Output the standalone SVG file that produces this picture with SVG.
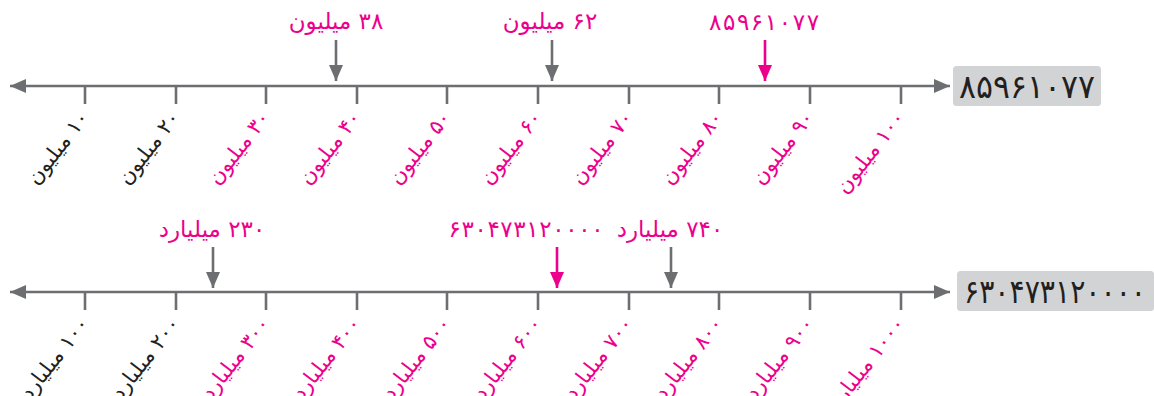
<svg xmlns="http://www.w3.org/2000/svg" width="1154" height="396" viewBox="0 0 1154 396">
<style>
.ax{stroke:#6d6e71;stroke-width:2.6;fill:none}
.tk{stroke:#6d6e71;stroke-width:2.6}
.pk{fill:#ec008c}
.bk{fill:#231f20}
.lbl{font-family:"DejaVu Sans",sans-serif;font-size:21px}
.top{font-family:"DejaVu Sans",sans-serif;font-size:23px}
.box{font-family:"DejaVu Sans",sans-serif;font-size:33px;fill:#231f20}
</style>
<defs>
<marker id="ah" markerUnits="userSpaceOnUse" markerWidth="16" markerHeight="14" refX="16" refY="7" orient="auto-start-reverse"><path d="M0,0L16,7L0,14z" fill="#6d6e71"/></marker>
<marker id="ahp" markerUnits="userSpaceOnUse" markerWidth="16" markerHeight="14" refX="16" refY="7" orient="auto"><path d="M0,0L16,7L0,14z" fill="#ec008c"/></marker>
</defs>
<g id="connectors">
<line class="ax" x1="10" y1="86" x2="950" y2="86" marker-start="url(#ah)" marker-end="url(#ah)"/>
<line class="ax" x1="10" y1="292" x2="950" y2="292" marker-start="url(#ah)" marker-end="url(#ah)"/>
<line class="ax" x1="336" y1="40" x2="336" y2="81" marker-end="url(#ah)"/>
<line class="ax" x1="552" y1="40" x2="552" y2="81" marker-end="url(#ah)"/>
<line x1="765" y1="40" x2="765" y2="81" stroke="#ec008c" stroke-width="2.6" marker-end="url(#ahp)"/>
<line class="ax" x1="213" y1="247" x2="213" y2="288" marker-end="url(#ah)"/>
<line x1="557" y1="247" x2="557" y2="288" stroke="#ec008c" stroke-width="2.6" marker-end="url(#ahp)"/>
<line class="ax" x1="671" y1="247" x2="671" y2="288" marker-end="url(#ah)"/>
</g>
<g id="ticks-top">
<line class="tk" x1="85" y1="86" x2="85" y2="104"/><line class="tk" x1="176" y1="86" x2="176" y2="104"/><line class="tk" x1="266" y1="86" x2="266" y2="104"/><line class="tk" x1="357" y1="86" x2="357" y2="104"/><line class="tk" x1="447" y1="86" x2="447" y2="104"/><line class="tk" x1="538" y1="86" x2="538" y2="104"/><line class="tk" x1="629" y1="86" x2="629" y2="104"/><line class="tk" x1="719" y1="86" x2="719" y2="104"/><line class="tk" x1="810" y1="86" x2="810" y2="104"/><line class="tk" x1="901" y1="86" x2="901" y2="104"/>
</g>
<g id="ticks-bottom">
<line class="tk" x1="85" y1="292" x2="85" y2="310"/><line class="tk" x1="176" y1="292" x2="176" y2="310"/><line class="tk" x1="266" y1="292" x2="266" y2="310"/><line class="tk" x1="357" y1="292" x2="357" y2="310"/><line class="tk" x1="447" y1="292" x2="447" y2="310"/><line class="tk" x1="538" y1="292" x2="538" y2="310"/><line class="tk" x1="629" y1="292" x2="629" y2="310"/><line class="tk" x1="719" y1="292" x2="719" y2="310"/><line class="tk" x1="810" y1="292" x2="810" y2="310"/><line class="tk" x1="901" y1="292" x2="901" y2="310"/>
</g>
<g id="labels-top" class="lbl" direction="rtl" text-anchor="start">
<text class="bk" transform="translate(90,118) rotate(-52)">۱۰ میلیون</text>
<text class="bk" transform="translate(181,118) rotate(-52)">۲۰ میلیون</text>
<text class="pk" transform="translate(271,118) rotate(-52)">۳۰ میلیون</text>
<text class="pk" transform="translate(362,118) rotate(-52)">۴۰ میلیون</text>
<text class="pk" transform="translate(452,118) rotate(-52)">۵۰ میلیون</text>
<text class="pk" transform="translate(543,118) rotate(-52)">۶۰ میلیون</text>
<text class="pk" transform="translate(634,118) rotate(-52)">۷۰ میلیون</text>
<text class="pk" transform="translate(724,118) rotate(-52)">۸۰ میلیون</text>
<text class="pk" transform="translate(815,118) rotate(-52)">۹۰ میلیون</text>
<text class="pk" transform="translate(906,118) rotate(-52)">۱۰۰ میلیون</text>
</g>
<g id="labels-bottom" class="lbl" direction="rtl" text-anchor="start">
<text class="bk" transform="translate(90,324) rotate(-52)">۱۰۰ میلیارد</text>
<text class="bk" transform="translate(181,324) rotate(-52)">۲۰۰ میلیارد</text>
<text class="pk" transform="translate(271,324) rotate(-52)">۳۰۰ میلیارد</text>
<text class="pk" transform="translate(362,324) rotate(-52)">۴۰۰ میلیارد</text>
<text class="pk" transform="translate(452,324) rotate(-52)">۵۰۰ میلیارد</text>
<text class="pk" transform="translate(543,324) rotate(-52)">۶۰۰ میلیارد</text>
<text class="pk" transform="translate(634,324) rotate(-52)">۷۰۰ میلیارد</text>
<text class="pk" transform="translate(724,324) rotate(-52)">۸۰۰ میلیارد</text>
<text class="pk" transform="translate(815,324) rotate(-52)">۹۰۰ میلیارد</text>
<text class="pk" transform="translate(906,324) rotate(-52)">۱۰۰۰ میلیارد</text>
</g>
<g id="n38"><text class="top pk" x="336" y="29" text-anchor="middle" direction="rtl">۳۸ میلیون</text></g>
<g id="n62"><text class="top pk" x="550" y="29" text-anchor="middle" direction="rtl">۶۲ میلیون</text></g>
<g id="n85961077"><text class="top pk" x="764" y="30" text-anchor="middle" textLength="110" lengthAdjust="spacing">۸۵۹۶۱۰۷۷</text></g>
<g id="n230"><text class="top pk" x="212" y="237" text-anchor="middle" direction="rtl">۲۳۰ میلیارد</text></g>
<g id="n630473120000"><text class="top pk" x="526" y="237" text-anchor="middle" textLength="155" lengthAdjust="spacing">۶۳۰۴۷۳۱۲۰۰۰۰</text></g>
<g id="n740"><text class="top pk" x="670" y="237" text-anchor="middle" direction="rtl">۷۴۰ میلیارد</text></g>
<g id="box-top"><rect x="953" y="66" width="148" height="40" rx="3.5" fill="#d1d3d4"/><text class="box" x="1027" y="98" text-anchor="middle" textLength="136" lengthAdjust="spacingAndGlyphs">۸۵۹۶۱۰۷۷</text></g>
<g id="box-bottom"><rect x="957" y="271" width="197" height="40" rx="3.5" fill="#d1d3d4"/><text class="box" x="1055" y="303" text-anchor="middle" textLength="182" lengthAdjust="spacingAndGlyphs">۶۳۰۴۷۳۱۲۰۰۰۰</text></g>
</svg>
